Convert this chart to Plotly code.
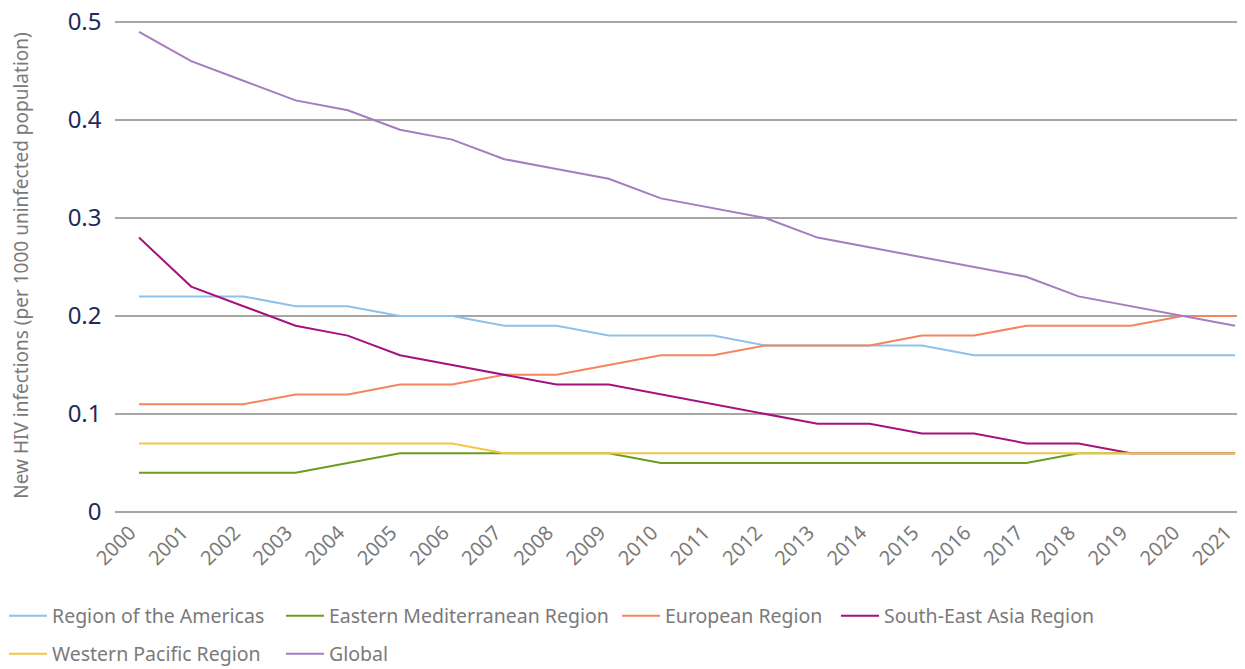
import plotly.graph_objects as go

years = [str(y) for y in range(2000, 2022)]
americas = [0.22,0.22,0.22,0.21,0.21,0.20,0.20,0.19,0.19,0.18,0.18,0.18,0.17,0.17,0.17,0.17,0.16,0.16,0.16,0.16,0.16,0.16]
eastern_med = [0.04,0.04,0.04,0.04,0.05,0.06,0.06,0.06,0.06,0.06,0.05,0.05,0.05,0.05,0.05,0.05,0.05,0.05,0.06,0.06,0.06,0.06]
european = [0.11,0.11,0.11,0.12,0.12,0.13,0.13,0.14,0.14,0.15,0.16,0.16,0.17,0.17,0.17,0.18,0.18,0.19,0.19,0.19,0.20,0.20]
se_asia = [0.28,0.23,0.21,0.19,0.18,0.16,0.15,0.14,0.13,0.13,0.12,0.11,0.10,0.09,0.09,0.08,0.08,0.07,0.07,0.06,0.06,0.06]
w_pacific = [0.07,0.07,0.07,0.07,0.07,0.07,0.07,0.06,0.06,0.06,0.06,0.06,0.06,0.06,0.06,0.06,0.06,0.06,0.06,0.06,0.06,0.06]
global_ = [0.49,0.46,0.44,0.42,0.41,0.39,0.38,0.36,0.35,0.34,0.32,0.31,0.30,0.28,0.27,0.26,0.25,0.24,0.22,0.21,0.20,0.19]

names = ["Region of the Americas", "Eastern Mediterranean Region", "European Region",
         "South-East Asia Region", "Western Pacific Region", "Global"]
values = [americas, eastern_med, european, se_asia, w_pacific, global_]
colors = ["#8ec1ea", "#6a9c1f", "#f5845f", "#a5127f", "#f5c542", "#a57cc0"]

# page body has an 8px offset; figure is sized to the visible region
OFF = 8
W, H = 1245 - OFF, 669 - OFF
L, T = 115 - OFF, 19 - OFF
PW, PH = W - L, 493
B = H - T - PH
YTOP = 0.5 * PH / 490.0   # keeps 0.5 at screen y=22 with a small headroom

# legend slots (screen px of line start, row centre)
slots = [(10, 616), (287, 616), (623, 616), (842, 616), (10, 654), (287, 654)]

FONT = "Noto Sans"
legend_font = dict(family=FONT, size=19.5, color="#7a7a7a")
fig = go.Figure()
layout_legends = {}
for i, (name, vals, col) in enumerate(zip(names, values, colors)):
    key = "legend" if i == 0 else f"legend{i+1}"
    fig.add_trace(go.Scatter(x=years, y=vals, name=name, mode="lines",
                             line=dict(color=col, width=2), legend=key))
    sx, sy = slots[i]
    layout_legends[key] = dict(
        orientation="h", xanchor="left", yanchor="middle",
        x=(sx - 6 - OFF - L) / PW, y=-((sy - OFF) - (T + PH)) / PH,
        font=legend_font, itemwidth=38, bgcolor="rgba(0,0,0,0)")

fig.update_layout(
    width=W, height=H,
    margin=dict(l=L, r=0, t=T, b=B, autoexpand=False),
    paper_bgcolor="white", plot_bgcolor="white",
    font=dict(family=FONT, color="#757575"),
    xaxis=dict(type="category", range=[-0.46, 21.19], showgrid=False,
               tickangle=-45, tickfont=dict(size=20, color="#7a7a7a"),
               ticklabelshift=-9, ticklabelstandoff=4,
               showline=False, ticks="", automargin=False),
    yaxis=dict(range=[0, YTOP], dtick=0.1, tick0=0, showgrid=True, gridcolor="#a6a6a6",
               gridwidth=1.5, zeroline=True, zerolinecolor="#a6a6a6", zerolinewidth=1.5,
               tickfont=dict(size=24, color="#1f2a5c"), tickformat="~g",
               ticklabeloverflow="allow",
               ticksuffix="  ", automargin=False,
               title=dict(text="New HIV infections (per 1000 uninfected population)",
                          font=dict(size=19, color="#7a7a7a"), standoff=45)),
    showlegend=True,
    **layout_legends,
)

fig.write_html("out.html")
